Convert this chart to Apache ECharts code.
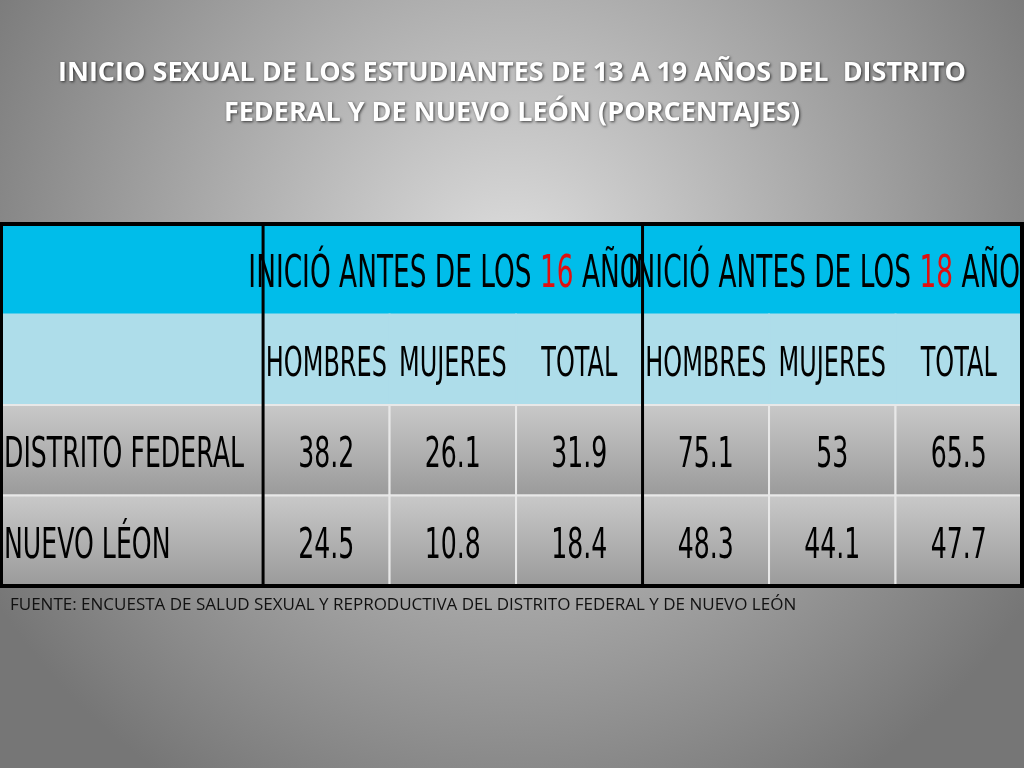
<!DOCTYPE html>
<html><head><meta charset="utf-8">
<script src="https://cdn.jsdelivr.net/npm/echarts@6/dist/echarts.min.js"></script>
<style>html,body{margin:0;padding:0}#c{width:1024px;height:768px}</style>
</head><body><div id="c"></div>
<script>
const title = "INICIO SEXUAL DE LOS ESTUDIANTES DE 13 A 19 AÑOS DEL  DISTRITO\nFEDERAL Y DE NUEVO LEÓN (PORCENTAJES)";
const groupAges = ["16", "18"];
const subCategories = ["HOMBRES", "MUJERES", "TOTAL"];
const regions = ["DISTRITO FEDERAL", "NUEVO LÉON"];
const valuesDF = [38.2, 26.1, 31.9, 75.1, 53, 65.5];
const valuesNL = [24.5, 10.8, 18.4, 48.3, 44.1, 47.7];
const source = "FUENTE: ENCUESTA DE SALUD SEXUAL Y REPRODUCTIVA DEL DISTRITO FEDERAL Y DE NUEVO LEÓN";

const LW = 2.08;
const cells = [];
cells.push([0, LW, 0, 'h0', '']);
groupAges.forEach((g, i) => cells.push([LW + 3 * i, LW + 3 * i + 3, 0, 'h0', g]));
cells.push([0, LW, 1, 'h1', '']);
for (let g = 0; g < 2; g++) subCategories.forEach((s, j) => cells.push([LW + 3 * g + j, LW + 3 * g + j + 1, 1, 'h1', s]));
[valuesDF, valuesNL].forEach((vals, r) => {
  cells.push([0, LW, 2 + r, 'lab', regions[r]]);
  vals.forEach((v, j) => cells.push([LW + j, LW + j + 1, 2 + r, 'val', String(v)]));
});

const font = '"DejaVu Sans", sans-serif';
const chart = echarts.init(document.getElementById('c'));
chart.setOption({
  backgroundColor: {type: 'radial', x: 0.5, y: 0.35, r: 0.8,
    colorStops: [{offset: 0, color: '#dedede'}, {offset: 1, color: '#767676'}]},
  title: {text: title, left: 'center', top: 48,
    textStyle: {color: '#fff', fontFamily: '"Open Sans", sans-serif', fontWeight: 'bold', fontSize: 27, lineHeight: 40,
      textShadowColor: 'rgba(0,0,0,0.7)', textShadowBlur: 3, textShadowOffsetX: 1, textShadowOffsetY: 1}},
  graphic: [{type: 'text', left: 10, top: 597, style: {text: source, fill: '#111', font: '17px "Open Sans", sans-serif'}}],
  grid: {left: 0, right: 2, top: 224, bottom: 182},
  xAxis: {type: 'value', min: 0, max: LW + 6, show: false},
  yAxis: {type: 'value', min: 0, max: 4, inverse: true, show: false},
  series: [{
    type: 'custom', data: cells, animation: false,
    renderItem: function (params, api) {
      const d = cells[params.dataIndex];
      const p0 = api.coord([d[0], d[2]]), p1 = api.coord([d[1], d[2] + 1]);
      const w = p1[0] - p0[0], h = p1[1] - p0[1];
      let fill, style;
      if (d[3] === 'h0') fill = '#00BDEA';
      else if (d[3] === 'h1') fill = '#AEDDEA';
      else fill = {type: 'linear', x: 0, y: 0, x2: 0, y2: 1, colorStops: [{offset: 0, color: '#c9c9c9'}, {offset: 1, color: '#9a9a9a'}]};
      const children = [{type: 'rect', shape: {x: p0[0], y: p0[1], width: w, height: h},
        style: {fill: fill, stroke: d[3] === 'val' || d[3] === 'lab' ? '#e8e8e8' : fill, lineWidth: 2}}];
      if (d[4]) {
        if (d[3] === 'h0') {
          style = {text: '{a|INICIÓ ANTES DE LOS }{r|' + d[4] + '}{a| AÑOS}',
            rich: {a: {fontFamily: font, fontSize: 44, fill: '#000'}, r: {fontFamily: font, fontSize: 44, fill: '#e01010'}}};
        } else {
          style = {text: d[4], fontFamily: font, fontSize: d[3] === 'h1' ? 40 : 42, fill: '#000'};
        }
        const isLab = d[3] === 'lab';
        style.x = 0; style.y = 0;
        style.align = isLab ? 'left' : 'center'; style.verticalAlign = 'middle';
        children.push({type: 'text', x: isLab ? p0[0] + 4 : p0[0] + w / 2, y: p0[1] + h / 2 + 6,
          scaleX: 0.6, style: style});
        if (d[3] === 'h0') {
          // underline under the red age number
          const cx = p0[0] + w / 2;
          children.push({type: 'text', x: cx, y: p0[1] + h / 2 + 6, scaleX: 0.6,
            style: {x: 0, y: 0, align: 'center', verticalAlign: 'middle',
              text: '{a|INICIÓ ANTES DE LOS }{u|' + d[4] + '}{a| AÑOS}',
              rich: {a: {fontFamily: font, fontSize: 44, fill: 'transparent'},
                     u: {fontFamily: font, fontSize: 44, fill: 'transparent', height: 62, verticalAlign: 'top',
                         borderColor: 'transparent'}}}});
        }
      }
      return {type: 'group', children: children};
    }
  }, {
    type: 'custom', data: [[0]], animation: false, silent: true,
    renderItem: function (params, api) {
      const tl = api.coord([0, 0]), br = api.coord([LW + 6, 4]);
      const m1 = api.coord([LW, 0])[0], m2 = api.coord([LW + 3, 0])[0];
      const s = {stroke: '#000', lineWidth: 4, fill: null};
      return {type: 'group', children: [
        {type: 'rect', shape: {x: tl[0] + 1, y: tl[1], width: br[0] - tl[0] - 1, height: br[1] - tl[1]}, style: s},
        {type: 'line', shape: {x1: m1, y1: tl[1], x2: m1, y2: br[1]}, style: {stroke: '#000', lineWidth: 3}},
        {type: 'line', shape: {x1: m2, y1: tl[1], x2: m2, y2: br[1]}, style: {stroke: '#000', lineWidth: 3}}
      ]};
    }
  }]
});
</script></body></html>
